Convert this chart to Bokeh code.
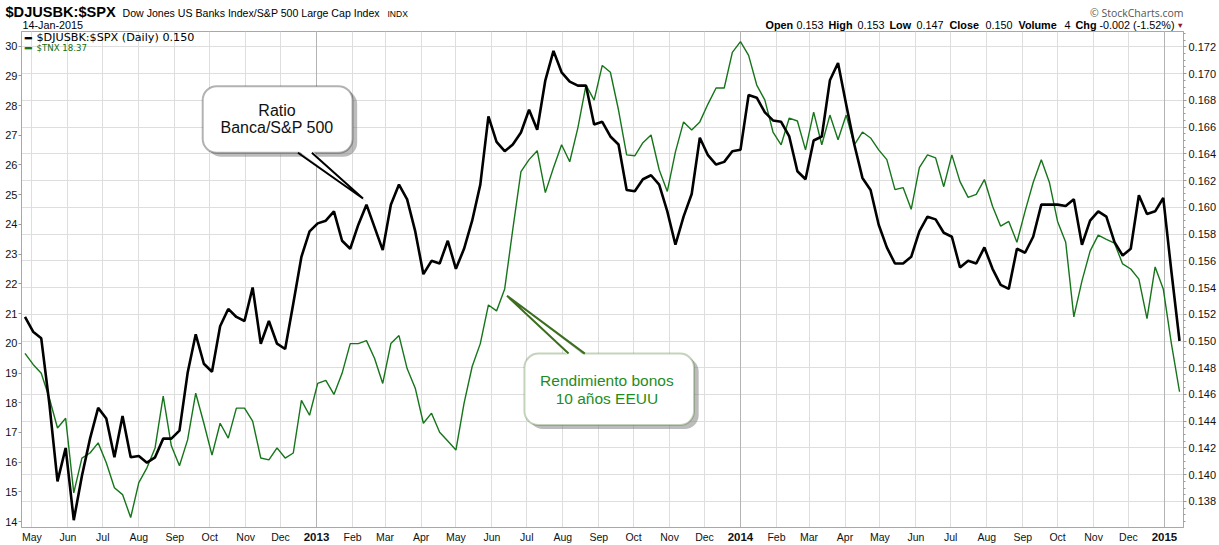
import pandas as pd
from bokeh.plotting import figure
from bokeh.layouts import column
from bokeh.models import (Range1d, LinearAxis, FixedTicker, PrintfTickFormatter, Grid,
                          Label, BoxAnnotation)
from bokeh.embed import file_html
from bokeh.resources import INLINE

# ---------------- data (weekly samples) ----------------
dates = pd.date_range("2012-04-25", periods=143, freq="7D")

ratio = [0.1518, 0.1507, 0.1502, 0.1453, 0.1395, 0.1420, 0.1366, 0.1399, 0.1427, 0.1450,
         0.1442, 0.1413, 0.1444, 0.1413, 0.1414, 0.1409, 0.1413, 0.1427, 0.1427, 0.1433,
         0.1476, 0.1505, 0.1483, 0.1477, 0.1511, 0.1524, 0.1518, 0.1515, 0.1540, 0.1498,
         0.1515, 0.1498, 0.1494, 0.1528, 0.1563, 0.1582, 0.1588, 0.1590, 0.1597, 0.1575,
         0.1569, 0.1587, 0.1602, 0.1585, 0.1568, 0.1602, 0.1617, 0.1606, 0.1582, 0.1550,
         0.1560, 0.1558, 0.1575, 0.1554, 0.1569, 0.1590, 0.1617, 0.1668, 0.1649, 0.1642,
         0.1647, 0.1656, 0.1673, 0.1658, 0.1695, 0.1717, 0.1701, 0.1694, 0.1691, 0.1691,
         0.1662, 0.1664, 0.1653, 0.1647, 0.1613, 0.1612, 0.1621, 0.1624, 0.1617, 0.1597,
         0.1572, 0.1593, 0.1610, 0.1652, 0.1639, 0.1632, 0.1634, 0.1642, 0.1643, 0.1684,
         0.1682, 0.1671, 0.1665, 0.1664, 0.1653, 0.1627, 0.1621, 0.1650, 0.1653, 0.1695,
         0.1708, 0.1677, 0.1647, 0.1622, 0.1613, 0.1587, 0.1570, 0.1558, 0.1558, 0.1563,
         0.1582, 0.1593, 0.1591, 0.1581, 0.1578, 0.1555, 0.1560, 0.1558, 0.1570, 0.1554,
         0.1542, 0.1539, 0.1569, 0.1566, 0.1578, 0.1602, 0.1602, 0.1602, 0.1601, 0.1606,
         0.1572, 0.1590, 0.1597, 0.1593, 0.1574, 0.1564, 0.1569, 0.1609, 0.1595, 0.1597,
         0.1607, 0.1552, 0.1500]

tnx = [19.66, 19.29, 18.99, 18.15, 17.15, 17.48, 14.97, 16.14, 16.31, 16.65,
       15.98, 15.14, 14.91, 14.14, 15.31, 15.81, 16.48, 18.22, 16.55, 15.88,
       16.75, 18.32, 17.31, 16.24, 17.31, 16.81, 17.82, 17.82, 17.38, 16.14,
       16.08, 16.48, 16.14, 16.31, 18.08, 17.58, 18.65, 18.75, 18.28, 18.99,
       19.99, 19.99, 20.09, 19.49, 18.65, 19.99, 20.26, 19.15, 18.49, 17.31,
       17.65, 17.01, 16.71, 16.41, 17.98, 19.22, 19.99, 21.29, 21.09, 21.83,
       23.84, 25.78, 26.18, 26.48, 25.07, 25.91, 26.68, 26.11, 27.25, 28.69,
       28.18, 29.35, 29.12, 27.85, 26.34, 26.31, 26.75, 27.01, 25.84, 25.11,
       26.44, 27.45, 27.18, 27.45, 28.05, 28.59, 28.59, 29.79, 30.15, 29.69,
       28.69, 28.18, 27.11, 26.68, 27.58, 27.48, 26.51, 27.78, 26.68, 27.68,
       26.85, 27.68, 26.68, 27.11, 26.91, 26.51, 26.18, 25.17, 25.24, 24.51,
       25.91, 26.34, 26.24, 25.27, 26.34, 25.44, 24.91, 25.01, 25.51, 24.61,
       23.94, 24.10, 23.40, 24.44, 25.41, 26.18, 25.41, 24.10, 23.40, 20.89,
       22.10, 23.10, 23.64, 23.50, 23.37, 22.67, 22.50, 22.16, 20.83, 22.57,
       21.83, 19.99, 18.37]

ratio_ticks = [0.138, 0.140, 0.142, 0.144, 0.146, 0.148, 0.150, 0.152, 0.154,
               0.156, 0.158, 0.160, 0.162, 0.164, 0.166, 0.168, 0.170, 0.172]
tnx_ticks = list(range(14, 31))
month_starts = pd.date_range("2012-05-01", "2015-01-01", freq="MS")
year_starts = [pd.Timestamp("2013-01-01"), pd.Timestamp("2014-01-01"), pd.Timestamp("2015-01-01")]

BLACK = "#000000"
GREEN = "#16751a"
GRID = "#dedede"
AXIS = "#a8a8a8"
FONT = "Liberation Sans"


def ms(s):
    return pd.Timestamp(s).timestamp() * 1000.0


# ---------------- header strip ----------------
hd = figure(width=1219, height=31, x_range=Range1d(0, 1219), y_range=Range1d(31, 0),
            x_axis_location=None, y_axis_location=None, output_backend="svg",
            toolbar_location=None, min_border=0, min_border_left=0, min_border_right=0,
            min_border_top=0, min_border_bottom=0, frame_align=False)
hd.outline_line_color = None
hd.background_fill_color = "white"
hd.border_fill_color = "white"
hd.grid.visible = False


def htxt(x, y, text, size, bold=False, color="#000000", align="left", font=FONT):
    hd.add_layout(Label(x=x, y=y, text=text, text_font=font, text_font_size=size,
                        text_font_style="bold" if bold else "normal",
                        text_color=color, text_align=align, text_baseline="middle"))


htxt(5, 11.5, "$DJUSBK:$SPX", "14.6px", bold=True)
htxt(122, 12.8, "Dow Jones US Banks Index/S&P 500 Large Cap Index", "10.6px")
htxt(387, 13.3, "INDX", "8.5px")
htxt(22, 24, "14-Jan-2015", "10.8px")
htxt(1183, 12.5, "\u00a9 StockCharts.com", "10.5px", color="#555555", align="right", font="Open Sans")
row = [(765, "Open", True), (796, "0.153", False), (828, "High", True), (857, "0.153", False),
       (889, "Low", True), (916, "0.147", False), (949, "Close", True), (985, "0.150", False),
       (1018, "Volume", True), (1064, "4", False), (1075, "Chg", True),
       (1099, "-0.002 (-1.52%)", False)]
for x, t, b in row:
    htxt(x, 24, t, "10.8px", bold=b)
htxt(1176, 24.5, "\u25bc", "7.5px", color="#8b1a2b")

# ---------------- main chart ----------------
p = figure(width=1219, height=514, x_axis_type="datetime", y_axis_location="right",
           x_range=Range1d(ms("2012-04-22"), ms("2015-01-17 10:00")),
           y_range=Range1d(0.136051, 0.173152),
           output_backend="svg", toolbar_location=None, frame_align=False,
           min_border_top=0, min_border_left=21, min_border_right=36, min_border_bottom=0)
p.background_fill_color = "white"
p.border_fill_color = "white"
p.outline_line_color = AXIS

ra = p.yaxis[0]
p.extra_y_ranges = {"tnx": Range1d(13.8027, 30.4916)}
left_axis = LinearAxis(y_range_name="tnx", ticker=FixedTicker(ticks=tnx_ticks),
                       formatter=PrintfTickFormatter(format="%d"))
p.add_layout(left_axis, "left")

minor = [0.1365 + 0.0005 * i for i in range(74)]
ra.ticker = FixedTicker(ticks=ratio_ticks, minor_ticks=minor)
ra.formatter = PrintfTickFormatter(format="%.3f")
ra.minor_tick_out = 2
ra.minor_tick_in = 0
ra.minor_tick_line_color = "#9a9a9a"
ra.major_tick_out = 3
ra.major_label_standoff = 2

left_axis.major_tick_out = 3
left_axis.minor_tick_out = 0
left_axis.minor_tick_in = 0
left_axis.major_label_standoff = 1

for ax in (ra, left_axis):
    ax.axis_line_color = AXIS
    ax.major_tick_line_color = "#9a9a9a"
    ax.major_tick_in = 0
    ax.major_label_text_font = FONT
    ax.major_label_text_font_size = "11px"
    ax.major_label_text_color = "#111111"

# x axis: months
xa = p.xaxis[0]
tick_ms = [ms(d) for d in month_starts]
xa.ticker = FixedTicker(ticks=tick_ms)
xa.major_label_overrides = {t: ("" if d.month == 1 else d.strftime("%b"))
                            for t, d in zip(tick_ms, month_starts)}
xa.axis_line_color = AXIS
xa.major_tick_out = 0
xa.major_tick_in = 0
xa.minor_tick_out = 0
xa.minor_tick_in = 0
xa.major_label_standoff = 3
xa.major_label_text_font = FONT
xa.major_label_text_font_size = "10.5px"
xa.major_label_text_color = "#111111"

# x axis: years in bold, pulled up onto the month row
year_ms = [ms(d) for d in year_starts]
ya = LinearAxis(ticker=FixedTicker(ticks=year_ms),
                major_label_overrides={t: str(d.year) for t, d in zip(year_ms, year_starts)})
ya.axis_line_color = None
ya.major_tick_line_color = None
ya.minor_tick_line_color = None
ya.major_tick_out = 0
ya.major_tick_in = 0
ya.major_label_standoff = -13
ya.major_label_text_font = FONT
ya.major_label_text_font_size = "11.5px"
ya.major_label_text_font_style = "bold"
ya.major_label_text_color = "#111111"
p.add_layout(ya, "below")

p.xgrid.grid_line_color = GRID
p.ygrid.grid_line_color = GRID
p.add_layout(Grid(dimension=0, ticker=FixedTicker(ticks=year_ms), grid_line_color="#b4b4b4"))

# ---------------- series ----------------
p.line(dates, tnx, y_range_name="tnx", line_color=GREEN, line_width=1.4)
p.line(dates, ratio, line_color=BLACK, line_width=2.6)


# legend entries inside the plot (canvas px; frame starts at x=21, y=0)
def ptxt(x, y, text, size, bold=False, color="#000000", font=FONT):
    p.add_layout(Label(x=x, y=y, x_units="canvas", y_units="canvas", text=text,
                       text_font=font, text_font_size=size,
                       text_font_style="bold" if bold else "normal",
                       text_color=color, text_align="left", text_baseline="middle"))


ptxt(24, 6, "\u2501", "11px", bold=True)
ptxt(36, 6, "$DJUSBK:$SPX (Daily) 0.150", "11.2px", font="DejaVu Sans")
ptxt(24, 16, "\u2501", "11px", bold=True, color=GREEN)
ptxt(36, 16, "$TNX 18.37", "8.6px", font="DejaVu Sans", color="#0e6e0e")


# ---------------- callouts ----------------
def callout(l, r, top, bot, edge, tail_base, tip, lines, text_x, text_color, border, size):
    dx = 4 * 86400000.0
    dy = 0.0003
    p.add_layout(BoxAnnotation(left=ms(l) + dx, right=ms(r) + dx, top=top - dy, bottom=bot - dy,
                               fill_color="#7a7a7a", fill_alpha=0.5, line_color=None,
                               border_radius=14))
    p.add_layout(BoxAnnotation(left=ms(l), right=ms(r), top=top, bottom=bot,
                               fill_color="white", fill_alpha=1.0, line_color=border,
                               line_width=2, border_radius=14))
    inside = 0.00018 if edge == bot else -0.00018
    bl, br = ms(tail_base[0]), ms(tail_base[1])
    tx, ty = ms(tip[0]), tip[1]
    p.patch([bl + dx, tx + dx, br + dx], [edge - dy, ty - dy, edge - dy],
            fill_color="#7a7a7a", fill_alpha=0.4, line_color=None, level="annotation")
    p.patch([bl, tx, br], [edge + inside, ty, edge + inside],
            fill_color="white", line_color=None, level="overlay")
    p.line([bl, tx, br], [edge, ty, edge], line_color=border, line_width=2, level="overlay")
    for (t, y) in lines:
        p.add_layout(Label(x=ms(text_x), y=y, text=t, text_align="center",
                           text_baseline="middle", text_font=FONT,
                           text_font_size=size, text_color=text_color))


callout("2012-09-25", "2013-02-01", 0.16906, 0.16408, 0.16408,
        ("2012-12-16", "2012-12-28"), ("2013-02-10", 0.16066),
        [("Ratio", 0.16728), ("Banca/S&P 500", 0.16594)], "2012-11-28", "#111111", "#000000",
        "16px")

callout("2013-06-29", "2013-11-22", 0.14906, 0.14371, 0.14906,
        ("2013-08-06", "2013-08-20"), ("2013-06-14", 0.15338),
        [("Rendimiento bonos", 0.14706), ("10 años EEUU", 0.14572)], "2013-09-08",
        "#1e8c1e", "#3b6e1e", "15.5px")

layout = column(hd, p, spacing=0)
open("out.html", "w").write(file_html(layout, INLINE))
